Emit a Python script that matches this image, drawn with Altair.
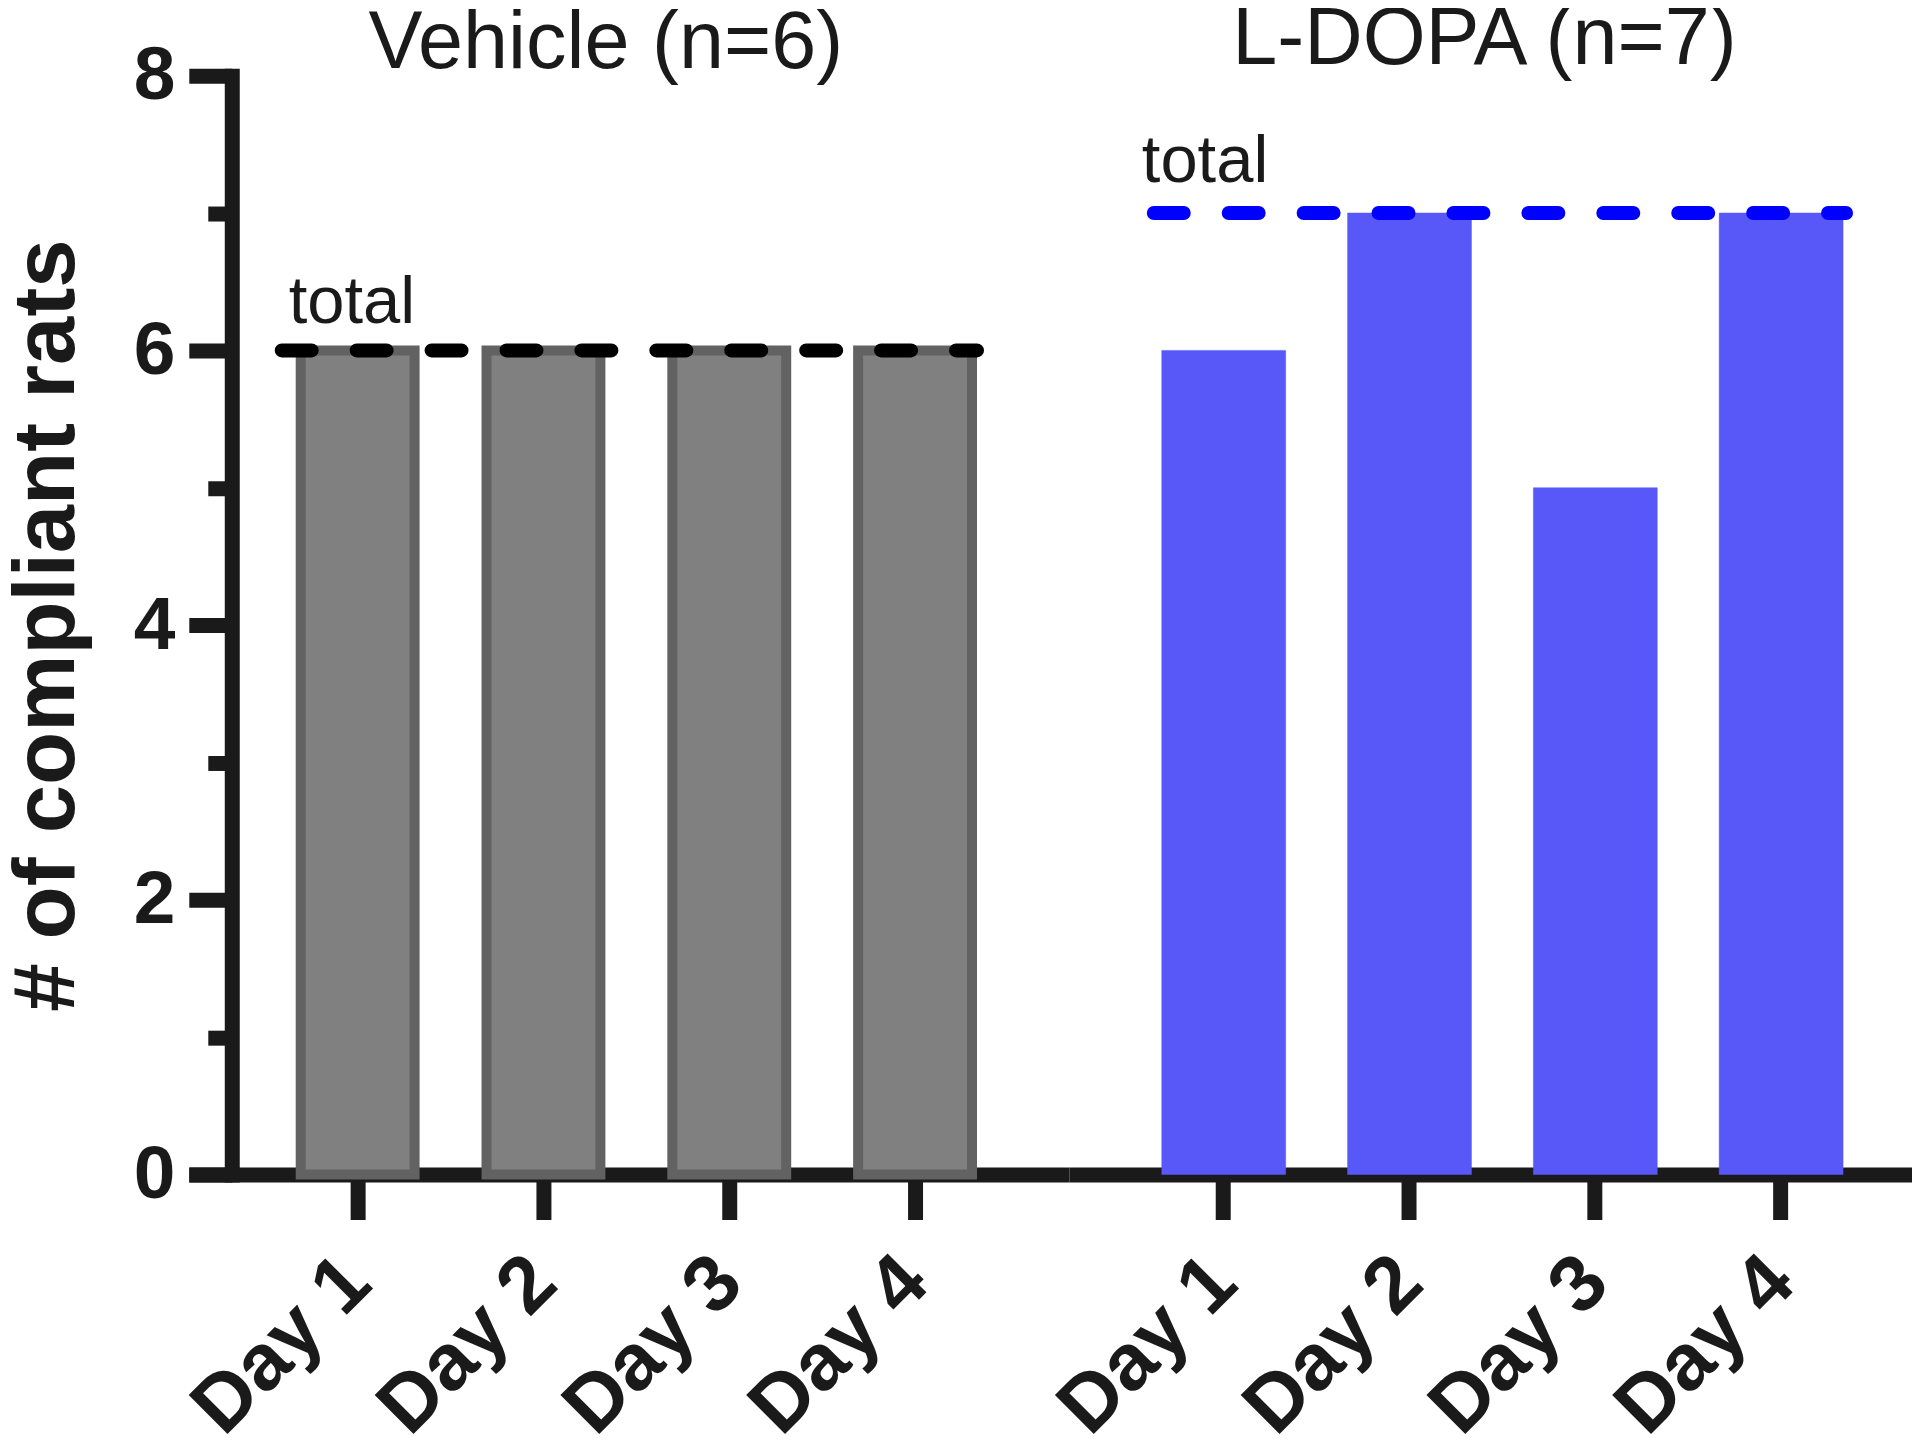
import altair as alt
import pandas as pd

# ---- data ----
days = ["Day 1", "Day 2", "Day 3", "Day 4"]
vehicle_counts = [6, 6, 6, 6]
ldopa_counts = [6, 7, 5, 7]
vehicle_total = 6
ldopa_total = 7
group_titles = ["Vehicle (n=6)", "L-DOPA (n=7)"]
y_ticks = [0, 1, 2, 3, 4, 5, 6, 7, 8]
y_title = "# of compliant rats"
total_label = "total"

FONT = "Liberation Sans"
INK = "#1a1a1a"
PLOT_H = 1100


def make_panel(counts, total, title, width, pad_inner, pad_outer, align,
               fill, stroke, stroke_w, line_color, show_y,
               rule_off, rule_off2, text_dx, text_dy, title_dx, title_off):
    bars_df = pd.DataFrame({"day": days, "count": counts})
    tot_df = pd.DataFrame({"first": [days[0]], "last": [days[-1]],
                           "total": [total], "label": [total_label]})
    xscale = alt.Scale(domain=days, paddingInner=pad_inner,
                       paddingOuter=pad_outer, align=align)
    yscale = alt.Scale(domain=[0, 8], nice=False, zero=True)
    xaxis = alt.Axis(title=None, labelAngle=-45, labelAlign="right",
                     labelBaseline="middle", labelFont=FONT, labelFontSize=80,
                     labelFontWeight="bold", labelColor=INK, labelPadding=50,
                     labelLimit=600,
                     tickSize=45, tickWidth=15, tickColor=INK,
                     domainWidth=15, domainColor=INK, domainCap="butt")
    if show_y:
        yaxis = alt.Axis(
            values=y_ticks, format="d",
            labelExpr="datum.value % 2 == 0 ? datum.label : ''",
            tickSize=alt.condition("datum.value % 2 == 0", alt.value(43), alt.value(24)),
            tickWidth=15, tickColor=INK, domainWidth=15, domainColor=INK,
            domainCap="square", offset=-43, grid=False,
            labelFont=FONT, labelFontSize=75, labelFontWeight="bold",
            labelColor=INK, labelPadding=14, labelBaseline="middle",
            title=y_title, titleFont=FONT, titleFontSize=87,
            titleFontWeight="bold", titleColor=INK, titleAngle=-90,
            titleAlign="center", titleBaseline="alphabetic",
            titleX=-158, titleY=PLOT_H / 2, titleLimit=1200)
    else:
        yaxis = None

    bars = alt.Chart(bars_df).mark_bar(
        fill=fill, stroke=stroke, strokeWidth=stroke_w
    ).encode(
        x=alt.X("day:N", scale=xscale, axis=xaxis, sort=days, title=None),
        y=alt.Y("count:Q", scale=yscale, axis=yaxis),
    )
    rule = alt.Chart(tot_df).mark_rule(
        color=line_color, strokeWidth=14, strokeDash=[30, 45],
        strokeCap="round", xOffset=rule_off, x2Offset=rule_off2
    ).encode(
        x=alt.X("first:N", bandPosition=0, scale=xscale, axis=xaxis, title=None),
        x2=alt.X2("last", bandPosition=1),
        y=alt.Y("total:Q", scale=yscale, axis=yaxis),
    )
    text = alt.Chart(tot_df).mark_text(
        align="left", baseline="alphabetic", font=FONT, fontSize=67,
        color=INK, dx=text_dx, dy=text_dy
    ).encode(
        x=alt.X("first:N", bandPosition=0, scale=xscale, axis=xaxis, title=None),
        y=alt.Y("total:Q", scale=yscale, axis=yaxis),
        text="label:N",
    )
    return alt.layer(bars, rule, text).properties(
        width=width, height=PLOT_H,
        title=alt.TitleParams(title, font=FONT, fontSize=81,
                              fontWeight="normal", color=INK, anchor="middle",
                              frame="group", baseline="alphabetic",
                              offset=title_off, dx=title_dx),
    )


p1 = make_panel(vehicle_counts, vehicle_total, group_titles[0], 881,
                0.3871, 0.5618, 0.536, "#808080", "#626262", 10, "#000000",
                True, -19, 5, -12, -27, -23, -110)
p2 = make_panel(ldopa_counts, ldopa_total, group_titles[1], 844,
                0.3333, 0.4355, 0.574, "#5858F8", "#5858F8", 0.5, "#0000FF",
                False, -8, 3, -20, -31, -6, -69)

chart = alt.hconcat(p1, p2, spacing=0, bounds="flush").properties(
    padding={"left": -5, "top": -10, "right": 0, "bottom": 0},
    background="white"
).configure_view(stroke=None)

chart.save("out.html", embed_options={"renderer": "svg", "actions": False})
